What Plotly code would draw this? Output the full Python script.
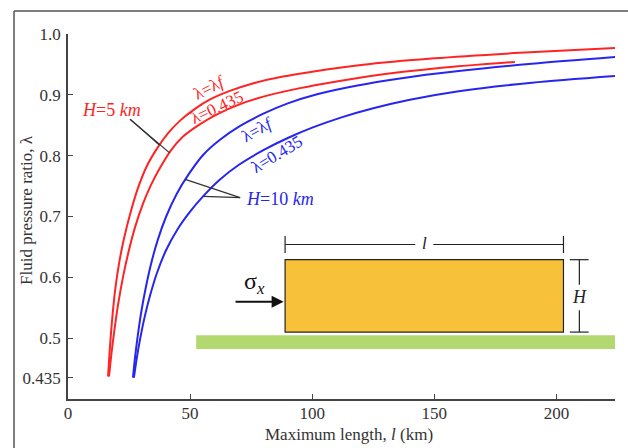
import plotly.graph_objects as go

# ---- data ----
red_f_x = [16.4, 17.0, 17.6, 18.4, 19.5, 21.0, 23.0, 25.5, 28.5, 32.3, 36.5, 41.0, 46.0, 52.0, 58.0,
           66.0, 76.0, 88.0, 100.0, 120.0, 150.0, 185.0, 224.0]
red_f_y = [0.437, 0.475, 0.508, 0.545, 0.585, 0.625, 0.665, 0.705, 0.745, 0.783, 0.812, 0.837, 0.858,
           0.877, 0.892, 0.906, 0.919, 0.930, 0.938, 0.949, 0.960, 0.969, 0.977]

red_435_x = [16.8, 17.8, 18.9, 20.5, 22.5, 24.8, 27.5, 30.8, 34.0, 37.7, 42.0, 47.0, 53.0, 61.0, 70.0,
             80.0, 95.0, 110.0, 124.0, 152.0, 183.0]
red_435_y = [0.437, 0.475, 0.510, 0.555, 0.600, 0.642, 0.683, 0.722, 0.752, 0.780, 0.808, 0.831, 0.849,
             0.868, 0.884, 0.897, 0.911, 0.922, 0.931, 0.944, 0.954]

blue_f_x = [26.6, 27.5, 28.6, 30.0, 31.8, 34.0, 36.8, 40.2, 44.5, 49.5, 55.5, 62.5, 70.5, 80.0, 90.0,
            102.0, 118.0, 136.0, 160.0, 190.0, 224.0]
blue_f_y = [0.435, 0.470, 0.505, 0.543, 0.582, 0.622, 0.662, 0.700, 0.737, 0.770, 0.802, 0.827, 0.849,
            0.869, 0.886, 0.901, 0.915, 0.927, 0.939, 0.951, 0.962]

blue_435_x = [27.0, 28.2, 29.6, 31.4, 33.6, 36.5, 40.2, 45.0, 50.0, 55.3, 62.0, 70.0, 80.0, 90.0, 100.0,
              112.0, 125.0, 140.0, 160.0, 190.0, 224.0]
blue_435_y = [0.435, 0.468, 0.500, 0.535, 0.570, 0.608, 0.645, 0.680, 0.708, 0.733, 0.760, 0.785, 0.809,
              0.829, 0.846, 0.863, 0.878, 0.892, 0.906, 0.920, 0.931]

x_ticks = [0, 50, 100, 150, 200]
y_ticks = [0.435, 0.5, 0.6, 0.7, 0.8, 0.9, 1.0]
y_tick_text = ["0.435", "0.5", "0.6", "0.7", "0.8", "0.9", "1.0"]

RED = "#FF2424"
BLUE = "#2626F0"
FONT = "Liberation Serif"
AX = "#444444"
TXT = "#333333"

fig = go.Figure()
for xs, ys, c in [(red_f_x, red_f_y, RED), (red_435_x, red_435_y, RED),
                  (blue_f_x, blue_f_y, BLUE), (blue_435_x, blue_435_y, BLUE)]:
    fig.add_trace(go.Scatter(x=xs, y=ys, mode="lines",
                             line=dict(color=c, width=2, shape="spline", smoothing=0.8),
                             showlegend=False, hoverinfo="skip"))

shapes = []
# frame lines of the figure panel
shapes.append(dict(type="line", xref="paper", yref="paper", x0=-0.0987, x1=1.03, y0=1.063, y1=1.063,
                   line=dict(color="#555555", width=1.5)))
shapes.append(dict(type="line", xref="paper", yref="paper", x0=-0.0987, x1=-0.0987, y0=1.063, y1=-0.14,
                   line=dict(color="#555555", width=1.5)))
# inset diagram
shapes.append(dict(type="rect", x0=52.5, x1=224, y0=0.482, y1=0.505, fillcolor="#B3D870",
                   line=dict(width=0), layer="below"))
shapes.append(dict(type="rect", x0=88.9, x1=202.9, y0=0.510, y1=0.629, fillcolor="#F7C23A",
                   line=dict(color="#222222", width=1.2)))
# l dimension
shapes.append(dict(type="line", x0=88.9, x1=142.2, y0=0.654, y1=0.654, line=dict(color="#222222", width=1.2)))
shapes.append(dict(type="line", x0=149.6, x1=202.9, y0=0.654, y1=0.654, line=dict(color="#222222", width=1.2)))
shapes.append(dict(type="line", x0=88.9, x1=88.9, y0=0.640, y1=0.668, line=dict(color="#222222", width=1.2)))
shapes.append(dict(type="line", x0=202.9, x1=202.9, y0=0.640, y1=0.668, line=dict(color="#222222", width=1.2)))
# H dimension
shapes.append(dict(type="line", x0=209.4, x1=209.4, y0=0.629, y1=0.588, line=dict(color="#222222", width=1.2)))
shapes.append(dict(type="line", x0=209.4, x1=209.4, y0=0.546, y1=0.510, line=dict(color="#222222", width=1.2)))
shapes.append(dict(type="line", x0=205.5, x1=213.2, y0=0.629, y1=0.629, line=dict(color="#222222", width=1.2)))
shapes.append(dict(type="line", x0=205.5, x1=213.2, y0=0.510, y1=0.510, line=dict(color="#222222", width=1.2)))
# leader lines
for (x0, y0, x1, y1) in [(25.4, 0.860, 37.3, 0.818), (25.4, 0.860, 41.5, 0.805),
                         (70.5, 0.731, 48.0, 0.761), (70.5, 0.731, 55.3, 0.733)]:
    shapes.append(dict(type="line", x0=x0, y0=y0, x1=x1, y1=y1, line=dict(color="#333333", width=1.2)))

ann = []
def txt(x, y, t, color, size=13, angle=0, xanchor="center"):
    ann.append(dict(x=x, y=y, text=t, showarrow=False, textangle=angle, xanchor=xanchor,
                    font=dict(family=FONT, size=size, color=color)))

txt(18.0, 0.875, "<i>H</i>=5 <i>km</i>", RED, 18)
txt(87.0, 0.728, "<i>H</i>=10 <i>km</i>", BLUE, 18)
txt(58.0, 0.912, "λ=λ<i>f</i>", RED, 17, -27)
txt(61.0, 0.879, "λ=0.435", RED, 17, -25)
txt(77.7, 0.843, "λ=λ<i>f</i>", BLUE, 17, -29)
txt(85.5, 0.802, "λ=0.435", BLUE, 17, -31)
txt(146.0, 0.656, "<i>l</i>", "#222222", 17)
txt(209.4, 0.567, "<i>H</i>", "#222222", 18)
txt(76.5, 0.590, "σ<i><sub>x</sub></i>", "#111111", 24)
# force arrow
ann.append(dict(x=88.3, y=0.560, ax=68.0, ay=0.560, axref="x", ayref="y", xref="x", yref="y",
                showarrow=True, arrowhead=2, arrowsize=1.2, arrowwidth=2, arrowcolor="#111111", text=""))
# axis titles
ann.append(dict(xref="paper", yref="paper", x=-0.075, y=0.518, xanchor="center", yanchor="middle",
                text="Fluid pressure ratio, λ", showarrow=False, textangle=-90,
                font=dict(family=FONT, size=17, color=TXT)))
ann.append(dict(xref="paper", yref="paper", x=0.513, y=-0.096, xanchor="center", yanchor="middle",
                text="Maximum length, <i>l</i> (km)", showarrow=False,
                font=dict(family=FONT, size=17, color=TXT)))

fig.update_layout(
    width=628, height=448,
    margin=dict(l=68, r=13, t=34, b=49),
    paper_bgcolor="white", plot_bgcolor="white",
    shapes=shapes, annotations=ann,
    xaxis=dict(range=[0, 224], tickvals=x_ticks, ticks="inside", ticklen=5, tickcolor=AX,
               showline=True, linecolor=AX, linewidth=1.5, showgrid=False, zeroline=False,
               ticklabelstandoff=-2,
               tickfont=dict(family=FONT, size=17, color=TXT)),
    yaxis=dict(range=[0.4, 1.0], tickvals=y_ticks, ticktext=y_tick_text, ticks="inside", ticklen=5,
               tickcolor=AX, showline=True, linecolor=AX, linewidth=1.5, showgrid=False, zeroline=False,
               ticklabelstandoff=2,
               tickfont=dict(family=FONT, size=17, color=TXT)),
)

fig.write_html("out.html", post_script="document.body.style.margin='0';",
               config={"displayModeBar": False})
